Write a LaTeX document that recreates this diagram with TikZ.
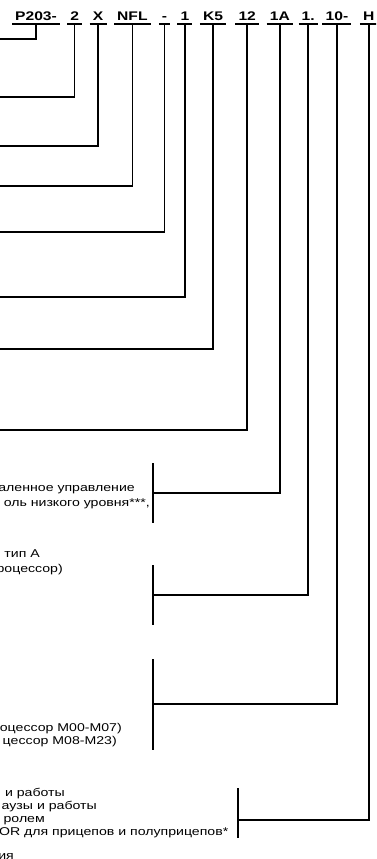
\documentclass[tikz,border=0pt]{standalone}
\usepackage{fontspec}
\setmainfont{Liberation Sans}[FakeStretch=1.25]
\usetikzlibrary{positioning}

\begin{document}
\begin{tikzpicture}[x=1pt, y=-1pt, node distance=7.5pt,
  code/.style={font=\fontsize{12.5}{15}\selectfont\bfseries,
    inner xsep=3pt, inner ysep=3pt, text height=9pt, text depth=0pt},
  desc/.style={font=\fontsize{11.3}{13}\selectfont, inner sep=0pt, anchor=base east},
  link/.style={line width=1.6pt},
  bar/.style={line width=2pt}]
  \useasboundingbox (0,0) rectangle (376,859);
  \clip (0,0) rectangle (376,859);
  % code fields
  \node[code, anchor=south west] (p203) at (12,24) {P203-};
  \node[code, right=7pt of p203] (n2) {2};
  \node[code, right=of n2] (x) {X};
  \node[code, right=of x] (nfl) {NFL};
  \node[code, right=8pt of nfl] (dash) {-};
  \node[code, right=7pt of dash] (n1) {1};
  \node[code, right=of n1] (k5) {K5};
  \node[code, right=9pt of k5] (n12) {12};
  \node[code, right=of n12] (a1) {1A};
  \node[code, right=5.5pt of a1] (pt1) {1.};
  \node[code, right=4.5pt of pt1] (n10) {10-};
  \node[code, right=8.5pt of n10] (h) {H};
  \foreach \n in {p203,n2,x,nfl,dash,n1,k5,n12,a1,pt1,n10,h}
    \draw[link] (\n.south west) -- (\n.south east);
  % ends off the left edge
  \coordinate (e1) at (-3,39);
  \coordinate (e2) at (-3,97);
  \coordinate (e3) at (-3,146);
  \coordinate (e4) at (-3,186);
  \coordinate (e5) at (-3,232);
  \coordinate (e6) at (-3,297);
  \coordinate (e7) at (-3,349);
  \coordinate (e8) at (-3,430);
  \draw[link] (p203.south) |- (e1);
  \draw[link] (n2.south) |- (e2);
  \draw[link] (x.south) |- (e3);
  \draw[link] (nfl.south) |- (e4);
  \draw[link] (dash.south) |- (e5);
  \draw[link] (n1.south) |- (e6);
  \draw[link] (k5.south) |- (e7);
  \draw[link] (n12.south) |- (e8);
  % brackets of the descriptions
  \coordinate (b1) at (153,493);
  \coordinate (b2) at (153,595);
  \coordinate (b3) at (153,704);
  \coordinate (b4) at (238,820);
  \draw[bar] (b1) ++(0,-30) -- ++(0,60);
  \draw[bar] (b2) ++(0,-30) -- ++(0,60);
  \draw[bar] (b3) ++(0,-45) -- ++(0,91);
  \draw[bar] (b4) ++(0,-32) -- ++(0,50);
  \draw[link] (a1.south) |- (b1);
  \draw[link] (pt1.south) |- (b2);
  \draw[link] (n10.south) |- (b3);
  \draw[link] (h.south) |- (b4);
  % descriptions
  \node[desc] (t1) at (135,491) {аленное управление};
  \node[desc] (t2) at (150,506) {оль низкого уровня***,};
  \node[desc] (t3) at (40,557) {тип А};
  \node[desc] (t4) at (63,572) {процессор)};
  \node[desc] (t5) at (122,731) {роцессор М00-М07)};
  \node[desc] (t6) at (117,744) {цессор М08-М23)};
  \node[desc] (t7) at (65,796) {и работы};
  \node[desc] (t8) at (97,809) {аузы и работы};
  \node[desc] (t9) at (45,822) {ролем};
  \node[desc] (t10) at (228.5,835) {OR для прицепов и полуприцепов*};
  \node[desc] (t11) at (14,859) {ия};
\end{tikzpicture}
\end{document}
